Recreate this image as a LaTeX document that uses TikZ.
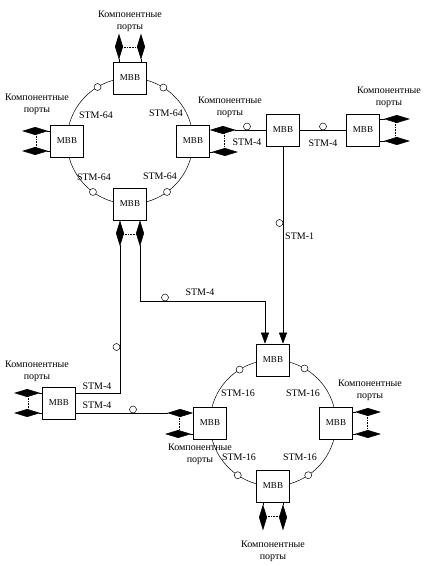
\documentclass[tikz,border=0pt]{standalone}
\usepackage{fontspec}
\setmainfont{Liberation Serif}
\usetikzlibrary{arrows.meta}

\begin{document}
\begin{tikzpicture}[x=1pt,y=-1pt,
 mbb/.style={draw,fill=white,line width=0.7pt,minimum width=33pt,minimum height=32pt,inner sep=0pt,font=\small},
 port/.style={line width=0.6pt,-{Diamond[length=26pt,width=8pt]}},
 link/.style={line width=0.6pt},
 dots/.style={densely dotted,line width=0.6pt},
 opn/.style={draw,fill=white,line width=0.5pt},
 lbl/.style={align=center,inner sep=0pt,font=\normalsize},
 stm/.style={inner sep=0pt}]
\useasboundingbox (0,0) rectangle (431,566);
\def\rad{63}

\begin{scope}[shift={(130,141)}] %ring-1
\draw[line width=0.5pt] (0,0) circle(\rad pt);
\draw[opn] (239:\rad) circle(3.5pt);
\draw[opn] (302:\rad) circle(3.5pt);
\draw[opn] (126:\rad) circle(3.5pt);
\draw[opn] (54:\rad) circle(3.5pt);
\node[mbb] (n1) at (0,-\rad) {МВВ};
\node[mbb] (w1) at (-\rad,0) {МВВ};
\node[mbb] (e1) at (\rad,0) {МВВ};
\node[mbb] (s1) at (0,\rad) {МВВ};
\node[stm] (stm1a) at (-34,-26) {STM-64};
\node[stm] (stm1b) at (36,-28) {STM-64};
\node[stm] (stm1c) at (-36,36) {STM-64};
\node[stm] (stm1d) at (30,35) {STM-64};
% top ports
\draw[port] ([xshift=-11pt]n1.north) -- ++(0,-28);
\draw[port] ([xshift=11pt]n1.north) -- ++(0,-28);
\draw[dots] ([xshift=-11pt,yshift=14pt]n1.north) -- ([xshift=11pt,yshift=14pt]n1.north);
\node[lbl] (p1n) at (0,-120) {Компонентные\\порты};
% left ports
\draw[port] ([yshift=10pt]w1.west) -- ++(-28,0);
\draw[port] ([yshift=-10pt]w1.west) -- ++(-28,0);
\draw[dots] ([xshift=-14pt,yshift=10pt]w1.west) -- ([xshift=-14pt,yshift=-10pt]w1.west);
\node[lbl] (p1w) at (-93,-37) {Компонентные\\порты};
\end{scope}

\begin{scope}[shift={(273,423)}] %ring-2
\draw[line width=0.5pt] (0,0) circle(\rad pt);
\draw[opn] (238:\rad) circle(3.5pt);
\draw[opn] (300:\rad) circle(3.5pt);
\draw[opn] (124:\rad) circle(3.5pt);
\draw[opn] (56:\rad) circle(3.5pt);
\node[mbb] (n2) at (0,-\rad) {МВВ};
\node[mbb] (w2) at (-\rad,0) {МВВ};
\node[mbb] (e2) at (\rad,0) {МВВ};
\node[mbb] (s2) at (0,\rad) {МВВ};
\node[stm] (stm2a) at (-35,-30) {STM-16};
\node[stm] (stm2b) at (30,-30) {STM-16};
\node[stm] (stm2c) at (-34,34) {STM-16};
\node[stm] (stm2d) at (27,34) {STM-16};
% right ports
\draw[port] ([yshift=11pt]e2.east) -- ++(28,0);
\draw[port] ([yshift=-11pt]e2.east) -- ++(28,0);
\draw[dots] ([xshift=14pt,yshift=11pt]e2.east) -- ([xshift=14pt,yshift=-11pt]e2.east);
\node[lbl] (p2e) at (97,-33) {Компонентные\\порты};
% bottom ports
\draw[port] ([xshift=-10pt]s2.south) -- ++(0,28);
\draw[port] ([xshift=10pt]s2.south) -- ++(0,28);
\draw[dots] ([xshift=-10pt,yshift=-14pt]s2.south) -- ([xshift=10pt,yshift=-14pt]s2.south);
\node[lbl] (p2s) at (0,128) {Компонентные\\порты};
% left ports
\draw[port] ([yshift=-11pt]w2.west) -- ++(-28,0);
\draw[dots] ([xshift=-14pt,yshift=10pt]w2.west) -- ([xshift=-14pt,yshift=-11pt]w2.west);
\node[lbl] (p2w) at (-73,31) {Компонентные\\порты};
\end{scope}

% middle and right MBB
\node[mbb] (m1) at (283,130) {МВВ};
\node[mbb] (m2) at (363,130) {МВВ};
\node[mbb] (bl) at (59,403) {МВВ};

\draw[port] (m1.west) -- (m1.west -| e1.east);
\draw[port] ([yshift=-11pt]e1.east) -- ++(28,0);
\draw[dots] ([xshift=14pt]e1.east |- m1.west) -- ([xshift=14pt,yshift=-11pt]e1.east);
\node[lbl] (p1e) at (230,107) {Компонентные\\порты};
\draw[opn] (247,126.5) circle(3.5pt);
\node[stm] (stm4a) at (247,142) {STM-4};

\draw[link] (m1.east) -- (m2.west);
\draw[opn] (323,126.5) circle(3.5pt);
\node[stm] (stm4b) at (323,143) {STM-4};

\draw[port] ([yshift=11pt]m2.east) -- ++(30,0);
\draw[port] ([yshift=-11pt]m2.east) -- ++(30,0);
\draw[dots] ([xshift=15pt,yshift=11pt]m2.east) -- ([xshift=15pt,yshift=-11pt]m2.east);
\node[lbl] (p3) at (389,97) {Компонентные\\порты};

% STM-1 down to ring-2
\draw[link,-{Triangle[length=11pt,width=8pt]}] (m1.south) -- (m1.south |- n2.north);
\draw[opn] (279.5,223) circle(3.5pt);
\node[stm,anchor=west] (stm1) at (285,236) {STM-1};

% ring-1 bottom ports
\draw[link,{Diamond[length=26pt,width=8pt]}-{Triangle[length=11pt,width=8pt]}]
 ([xshift=10pt]s1.south) -- ++(0,81) -| ([xshift=-8pt]n2.north);
\draw[opn] (165,297.5) circle(3.5pt);
\node[stm] (stm4c) at (200,292) {STM-4};
\draw[link,{Diamond[length=26pt,width=8pt]}-] ([xshift=-10pt]s1.south) |- ([yshift=10pt]bl.east);
\draw[dots] ([xshift=-10pt,yshift=-14pt]s1.south) -- ([xshift=10pt,yshift=-14pt]s1.south);
\draw[opn] (116.5,347) circle(3.5pt);
\node[stm] (stm4d) at (97,386) {STM-4};

% bottom-left MBB
\draw[port] ([yshift=-10pt]bl.east) -- ([yshift=-10pt]bl.east -| w2.west);
\draw[opn] (133,409.5) circle(3.5pt);
\node[stm] (stm4e) at (97,405) {STM-4};
\draw[port] ([yshift=10pt]bl.west) -- ++(-28,0);
\draw[port] ([yshift=-10pt]bl.west) -- ++(-28,0);
\draw[dots] ([xshift=-14pt,yshift=10pt]bl.west) -- ([xshift=-14pt,yshift=-10pt]bl.west);
\node[lbl] (p4) at (37,371) {Компонентные\\порты};
\end{tikzpicture}
\end{document}
